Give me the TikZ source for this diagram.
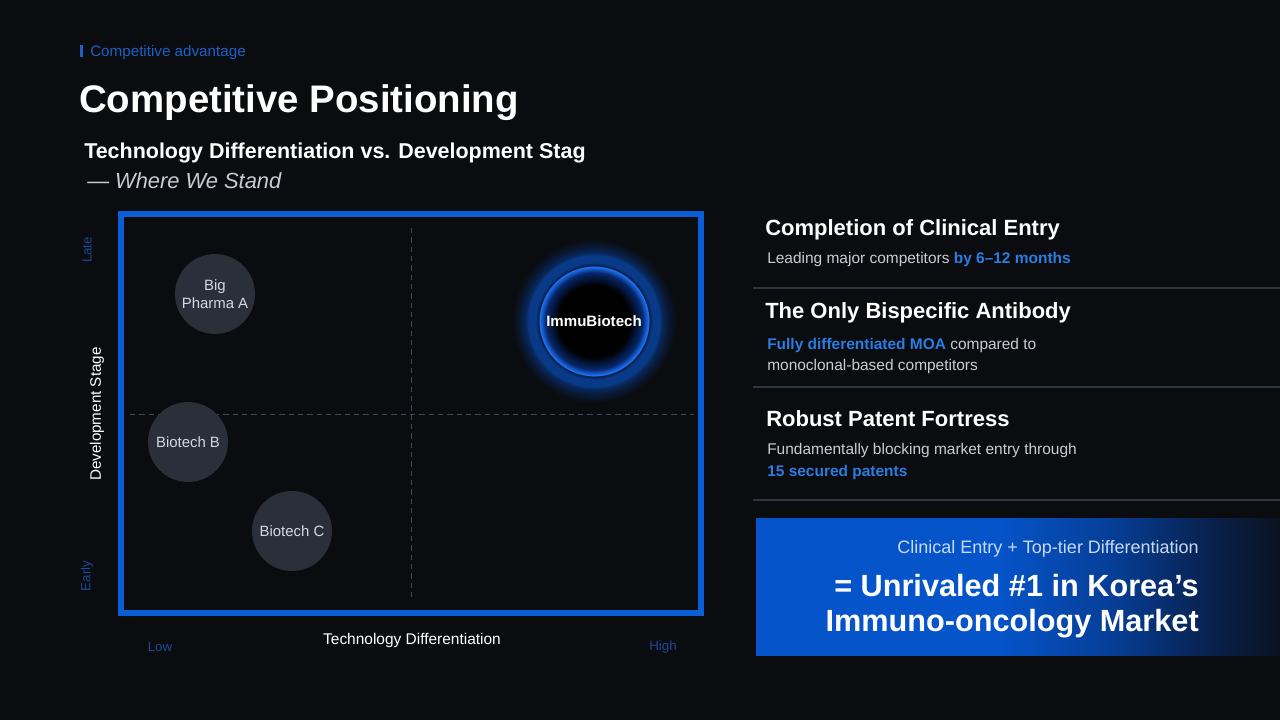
\documentclass[tikz,border=0pt]{standalone}
\usepackage{fontspec}
\setmainfont{Liberation Sans}
\usetikzlibrary{shadings}
\definecolor{bg}{RGB}{10,12,16}
\definecolor{chartblue}{RGB}{10,95,215}
\definecolor{dashgray}{RGB}{62,72,88}
\definecolor{bubble}{RGB}{42,47,58}
\definecolor{bubbletext}{RGB}{212,216,224}
\definecolor{axisblue}{RGB}{28,72,150}
\definecolor{accent}{RGB}{42,125,225}
\definecolor{toplabel}{RGB}{30,95,195}
\definecolor{bodygray}{RGB}{200,204,212}
\definecolor{sepgray}{RGB}{45,54,66}
\definecolor{boxtop}{RGB}{200,218,245}
\definecolor{gA}{RGB}{5,84,202}
\definecolor{gB}{RGB}{6,62,150}
\definecolor{gC}{RGB}{9,34,80}
\definecolor{gD}{RGB}{11,18,32}
\definecolor{rimblue}{RGB}{30,115,245}
\definecolor{innerglow}{RGB}{6,40,110}
\definecolor{rimdark}{RGB}{6,30,72}
\definecolor{ringblue}{RGB}{9,58,135}
\definecolor{ringdim}{RGB}{8,40,92}
\definecolor{halo}{RGB}{9,24,50}
\pgfdeclarehorizontalshading{boxshade}{100bp}{color(0bp)=(gA);color(25bp)=(gA);color(48bp)=(gA);color(59bp)=(gB);color(68bp)=(gC);color(75bp)=(gD);color(100bp)=(gD)}
\pgfdeclareradialshading{immuglow}{\pgfpoint{0bp}{0bp}}{color(0bp)=(black);color(11.0bp)=(black);color(14.8bp)=(innerglow);color(16.6bp)=(rimblue);color(16.9bp)=(rimdark);color(17.8bp)=(ringblue);color(20.0bp)=(ringblue);color(20.8bp)=(ringdim);color(22.8bp)=(halo);color(25bp)=(bg);color(50bp)=(bg)}
\tikzset{
  bubblenode/.style={circle, fill=bubble, minimum size=60pt, inner sep=0pt, text=bubbletext, align=center, font=\fontsize{11.2pt}{13pt}\selectfont},
  axislab/.style={text=axisblue, font=\fontsize{10pt}{12pt}\selectfont, inner sep=0pt},
  head/.style={anchor=west, text=white, font=\fontsize{16.5pt}{20pt}\selectfont\bfseries, inner sep=0pt},
  body/.style={anchor=west, text=bodygray, font=\fontsize{11.6pt}{16pt}\selectfont, inner sep=0pt, align=left},
  sep/.style={draw=sepgray, line width=0.9pt},
  quaddash/.style={draw=dashgray, dashed, dash pattern=on 4pt off 3pt, line width=0.6pt}
}
\begin{document}
\begin{tikzpicture}[x=0.75pt,y=-0.75pt]
\fill[bg] (0,0) rectangle (1280,720);
\useasboundingbox (0,0) rectangle (1280,720);
% header
\fill[toplabel] (80,45) rectangle (82.5,57);
\node[anchor=west, inner sep=0pt, text=toplabel, font=\fontsize{11.4pt}{13pt}\selectfont] (toplab) at (90,52.5) {Competitive advantage};
\node[anchor=west, inner sep=0pt, text=white, font=\fontsize{28.8pt}{34pt}\selectfont\bfseries] (title) at (79,103) {Competitive Positioning};
\node[anchor=west, inner sep=0pt, text=white, font=\fontsize{16.1pt}{19pt}\selectfont\bfseries] (subtitle) at (84,153) {Technology Differentiation vs. Development Stag};
\node[anchor=west, inner sep=0pt, text=bodygray, font=\fontsize{16.4pt}{19pt}\selectfont\itshape] (stand) at (87,181) {— Where We Stand};
% chart
\fill[bg] (120,213) rectangle (702,614);
\draw[quaddash] (411,228) -- (411,598);
\draw[quaddash] (130,414) -- (694,414);
\draw[chartblue, line width=4pt] (121,214) rectangle (701,613);
\node[bubblenode] (bigpharma) at (215,294) {Big\\Pharma A};
\node[bubblenode] (biotechb) at (188,442) {Biotech B};
\node[bubblenode] (biotechc) at (292,531) {Biotech C};
\node[circle, minimum size=123pt, inner sep=0pt, shading=immuglow] (immuglow) at (594,321) {};
\node[text=white, font=\fontsize{11.3pt}{13pt}\selectfont\bfseries, inner sep=0pt] (immu) at (594,321) {ImmuBiotech};
% axis labels
\node[axislab, rotate=90] (late) at (87,250) {Late};
\node[axislab, rotate=90] (early) at (87,576) {Early};
\node[rotate=90, text=white, inner sep=0pt, font=\fontsize{11.4pt}{13pt}\selectfont] (devstage) at (97,414) {Development Stage};
\node[text=white, inner sep=0pt, font=\fontsize{11.6pt}{13pt}\selectfont] (techdiff) at (412,640) {Technology Differentiation};
\node[axislab] (low) at (160,647) {Low};
\node[axislab] (high) at (663,647) {High};
% right panel
\node[head] (h1) at (765,230) {Completion of Clinical Entry};
\node[body] (b1) at (767,260) {Leading major competitors \textcolor{accent}{\bfseries by 6–12 months}};
\draw[sep] (753,288) -- (1280,288);
\node[head] (h2) at (765,313) {The Only Bispecific Antibody};
\node[body, anchor=north west] (b2) at (767,338) {\textcolor{accent}{\bfseries Fully differentiated MOA} compared to\\monoclonal-based competitors};
\draw[sep] (753,387) -- (1280,387);
\node[head] (h3) at (766,419) {Robust Patent Fortress};
\node[body, anchor=north west] (b3) at (767,443.5) {Fundamentally blocking market entry through\\\textcolor{accent}{\bfseries 15 secured patents}};
\draw[sep] (753,500) -- (1280,500);
% conclusion box
\shade[shading=boxshade] (756,518) rectangle (1280,655);
\node[anchor=east, inner sep=0pt, text=boxtop, font=\fontsize{13.5pt}{16pt}\selectfont] (cl1) at (1199,548.5) {Clinical Entry + Top-tier Differentiation};
\node[anchor=east, inner sep=0pt, text=white, font=\fontsize{23pt}{26pt}\selectfont\bfseries] (cl2) at (1199,586) {= Unrivaled \#1 in Korea’s};
\node[anchor=east, inner sep=0pt, text=white, font=\fontsize{23pt}{26pt}\selectfont\bfseries] (cl3) at (1199,624) {Immuno-oncology Market};
\end{tikzpicture}
\end{document}
